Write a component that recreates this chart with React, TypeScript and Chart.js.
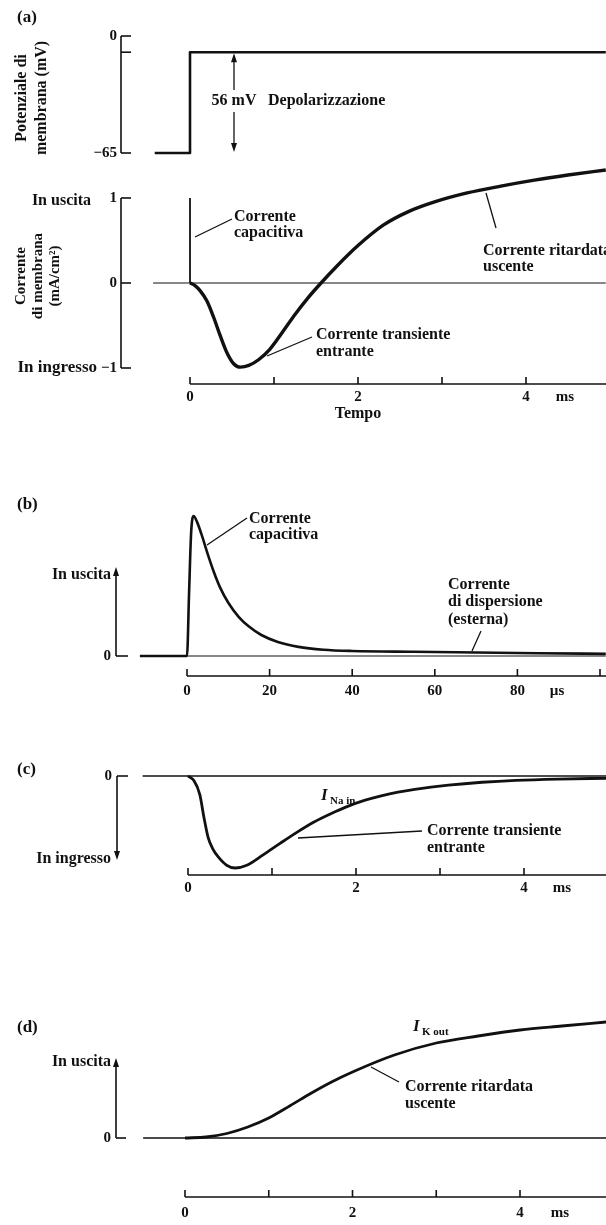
import React, { useEffect, useRef } from 'react';
import { Chart, registerables } from 'chart.js';
Chart.register(...registerables);

// ---------------- data ----------------
// (a) membrane potential step (ms, mV)
const voltageTime = [-0.42, 0, 0, 4.95];
const voltageMv = [-65, -65, -9, -9];
const voltageTicks = [0, -9, -65];
const voltageTickLabels = ['0', '', '−65'];

// (a) membrane current (ms, mA/cm²)
const capSpikeTime = [0, 0];
const capSpikeValue = [0, 1.0];
const membraneTime = [0, 0.06, 0.12, 0.2, 0.28, 0.36, 0.44, 0.52, 0.6, 0.7, 0.82, 0.95, 1.1, 1.25, 1.4, 1.56, 1.75, 2.0, 2.3, 2.6, 2.93, 3.3, 3.7, 4.1, 4.5, 4.95];
const membraneCurrent = [0, -0.03, -0.09, -0.21, -0.4, -0.62, -0.82, -0.95, -0.99, -0.97, -0.9, -0.78, -0.58, -0.37, -0.18, 0, 0.2, 0.44, 0.68, 0.84, 0.96, 1.06, 1.14, 1.21, 1.27, 1.33];
const currentTicks = [1, 0, -1];
const currentTickLabels = ['1', '0', '−1'];
const zeroLineA = [-0.44, 4.95];

// time axis (ms)
const msTicks = [0, 1, 2, 3, 4];
const msTickLabels = ['0', '', '2', '', '4'];

// (b) capacitive current (µs, arbitrary units)
const capTimeUs = [-11.4, 0, 0.5, 1.0, 1.6, 2.4, 3.5, 5, 6.5, 8, 10, 12.5, 15, 18, 22, 27, 33, 40, 55, 70, 85, 101.4];
const capCurrent = [0, 0, 0.45, 0.88, 1.0, 0.96, 0.87, 0.73, 0.6, 0.49, 0.38, 0.28, 0.21, 0.15, 0.1, 0.065, 0.045, 0.036, 0.03, 0.025, 0.02, 0.015];
const zeroLineB = [-11.4, 101.4];
const usTicks = [0, 20, 40, 60, 80, 100];
const usTickLabels = ['0', '20', '40', '60', '80', ''];

// (c) transient inward Na current (ms, arbitrary units)
const naTime = [0, 0.07, 0.14, 0.19, 0.24, 0.3, 0.36, 0.46, 0.56, 0.7, 0.89, 1.1, 1.3, 1.5, 1.7, 1.9, 2.1, 2.3, 2.5, 2.7, 3.1, 3.5, 3.9, 4.4, 4.98];
const naCurrent = [0, -0.05, -0.2, -0.45, -0.67, -0.8, -0.88, -0.97, -1.0, -0.97, -0.86, -0.73, -0.61, -0.5, -0.41, -0.33, -0.265, -0.215, -0.175, -0.145, -0.1, -0.068, -0.047, -0.033, -0.025];
const zeroLineC = [-0.54, 4.98];

// (d) delayed outward K current (ms, arbitrary units)
const kTime = [0, 0.25, 0.5, 0.75, 1.0, 1.25, 1.5, 1.75, 2.0, 2.5, 3.0, 3.5, 4.0, 4.5, 5.03];
const kCurrent = [0, 0.01, 0.045, 0.11, 0.2, 0.32, 0.445, 0.56, 0.66, 0.83, 0.95, 1.02, 1.08, 1.12, 1.16];
const zeroLineD = [-0.5, 5.03];

// ---------------- layout ----------------
const W = 606;
const H = 1225;
const FONT = '"Liberation Serif", "DejaVu Serif", serif';
const f = (size: number, style = 'bold') => `${style} ${size}px ${FONT}`;
const LBL = f(16);
const TICK = f(15);

// scale helper: pixel p0 holds value 0, k pixels per unit
const xRange = (p0: number, k: number) => ({ min: -p0 / k, max: (W - p0) / k });
const yRange = (q0: number, k: number) => ({ min: -(H - q0) / k, max: q0 / k });

const pts = (xs: number[], ys: number[]) => xs.map((x, i) => ({ x, y: ys[i] }));
const flat = (xs: number[]) => xs.map((x) => ({ x, y: 0 }));

function line(data: any[], xAxisID: string, yAxisID: string, width: number, smooth = true) {
  return {
    data,
    xAxisID,
    yAxisID,
    borderColor: '#111',
    borderWidth: width,
    pointRadius: 0,
    fill: false,
    cubicInterpolationMode: smooth ? 'monotone' : 'default',
    tension: 0,
    borderCapStyle: 'butt',
    borderJoinStyle: 'round',
  };
}

function arrowHead(ctx: CanvasRenderingContext2D, x: number, y: number, dir: 1 | -1) {
  // dir -1: pointing up, 1: pointing down
  ctx.beginPath();
  ctx.moveTo(x, y);
  ctx.lineTo(x - 3, y - dir * 9);
  ctx.lineTo(x + 3, y - dir * 9);
  ctx.closePath();
  ctx.fill();
}

function seg(ctx: CanvasRenderingContext2D, x1: number, y1: number, x2: number, y2: number, w = 1.3) {
  ctx.lineWidth = w;
  ctx.beginPath();
  ctx.moveTo(x1, y1);
  ctx.lineTo(x2, y2);
  ctx.stroke();
}

function text(ctx: CanvasRenderingContext2D, s: string, x: number, y: number, align: CanvasTextAlign = 'left', font = LBL) {
  ctx.font = font;
  ctx.textAlign = align;
  ctx.textBaseline = 'middle';
  ctx.fillText(s, x, y);
}

function xAxis(ctx: CanvasRenderingContext2D, sc: any, base: number, ticks: number[], labels: string[], labelY: number, unit: string, unitX: number) {
  const x0 = sc.getPixelForValue(ticks[0]);
  seg(ctx, x0, base, W, base, 1.6);
  ticks.forEach((t, i) => {
    const px = sc.getPixelForValue(t);
    seg(ctx, px, base, px, base - 7, 1.6);
    if (labels[i]) text(ctx, labels[i], px, labelY, 'center', TICK);
  });
  text(ctx, unit, unitX, labelY, 'center', TICK);
}

const axesPlugin = {
  id: 'figureAxes',
  afterDraw(chart: any) {
    const ctx: CanvasRenderingContext2D = chart.ctx;
    const s = chart.scales;
    ctx.save();
    ctx.strokeStyle = '#111';
    ctx.fillStyle = '#111';

    // panel letters
    text(ctx, '(a)', 17, 18, 'left', f(17));
    text(ctx, '(b)', 17, 505, 'left', f(17));
    text(ctx, '(c)', 17, 770, 'left', f(17));
    text(ctx, '(d)', 17, 1028, 'left', f(17));

    // ---- (a) voltage axis ----
    const yV = s.yV;
    seg(ctx, 121, yV.getPixelForValue(0), 121, yV.getPixelForValue(-65), 1.6);
    voltageTicks.forEach((v, i) => {
      const py = yV.getPixelForValue(v);
      seg(ctx, 121, py, 131, py, 1.6);
      if (voltageTickLabels[i]) text(ctx, voltageTickLabels[i], 117, py, 'right', TICK);
    });
    ctx.save();
    ctx.translate(22, 98);
    ctx.rotate(-Math.PI / 2);
    text(ctx, 'Potenziale di', 0, 0, 'center', LBL);
    text(ctx, 'membrana (mV)', 0, 20, 'center', LBL);
    ctx.restore();
    // depolarisation arrow
    const ax = 234;
    const aTop = yV.getPixelForValue(-9) + 1;
    const aBot = yV.getPixelForValue(-65) - 1;
    seg(ctx, ax, aTop + 6, ax, 90, 1.3);
    seg(ctx, ax, 112, ax, aBot - 6, 1.3);
    arrowHead(ctx, ax, aTop, -1);
    arrowHead(ctx, ax, aBot, 1);
    text(ctx, '56 mV', ax, 101, 'center', LBL);
    text(ctx, 'Depolarizzazione', 268, 101, 'left', LBL);

    // ---- (a) current axis ----
    const yA = s.yA;
    seg(ctx, 121, yA.getPixelForValue(1), 121, yA.getPixelForValue(-1), 1.6);
    currentTicks.forEach((v, i) => {
      const py = yA.getPixelForValue(v);
      seg(ctx, 121, py, 131, py, 1.6);
      text(ctx, currentTickLabels[i], 117, py, 'right', TICK);
    });
    text(ctx, 'In uscita', 91, yA.getPixelForValue(1) + 3, 'right', LBL);
    text(ctx, 'In ingresso', 97, yA.getPixelForValue(-1), 'right', f(17));
    ctx.save();
    ctx.translate(21, 276);
    ctx.rotate(-Math.PI / 2);
    text(ctx, 'Corrente', 0, 0, 'center', f(15));
    text(ctx, 'di membrana', 0, 17, 'center', f(15));
    text(ctx, '(mA/cm²)', 0, 34, 'center', f(15));
    ctx.restore();
    xAxis(ctx, s.xA, 384, msTicks, msTickLabels, 397, 'ms', 565);
    text(ctx, 'Tempo', 358, 414, 'center', LBL);
    // annotations (a)
    seg(ctx, 195, 237, 232, 219);
    text(ctx, 'Corrente', 234, 217, 'left', LBL);
    text(ctx, 'capacitiva', 234, 233, 'left', LBL);
    seg(ctx, 486, 193, 496, 228);
    text(ctx, 'Corrente ritardata', 483, 251, 'left', LBL);
    text(ctx, 'uscente', 483, 267, 'left', LBL);
    seg(ctx, 267, 356, 312, 337);
    text(ctx, 'Corrente transiente', 316, 335, 'left', LBL);
    text(ctx, 'entrante', 316, 352, 'left', LBL);

    // ---- (b) ----
    const yB = s.yB;
    const b0 = yB.getPixelForValue(0);
    seg(ctx, 116, b0, 116, 575, 1.6);
    arrowHead(ctx, 116, 567, -1);
    seg(ctx, 116, b0, 128, b0, 1.6);
    text(ctx, '0', 111, b0, 'right', TICK);
    text(ctx, 'In uscita', 111, 575, 'right', LBL);
    xAxis(ctx, s.xB, 676, usTicks, usTickLabels, 691, 'µs', 557);
    seg(ctx, 207, 545, 247, 518);
    text(ctx, 'Corrente', 249, 519, 'left', LBL);
    text(ctx, 'capacitiva', 249, 535, 'left', LBL);
    seg(ctx, 481, 631, 472, 651);
    text(ctx, 'Corrente', 448, 585, 'left', LBL);
    text(ctx, 'di dispersione', 448, 602, 'left', LBL);
    text(ctx, '(esterna)', 448, 620, 'left', LBL);

    // ---- (c) ----
    const yC = s.yC;
    const c0 = yC.getPixelForValue(0);
    seg(ctx, 117, c0, 117, 851, 1.6);
    arrowHead(ctx, 117, 860, 1);
    seg(ctx, 117, c0, 128, c0, 1.6);
    text(ctx, '0', 112, c0, 'right', TICK);
    text(ctx, 'In ingresso', 111, 859, 'right', LBL);
    xAxis(ctx, s.xC, 875, msTicks, msTickLabels, 888, 'ms', 562);
    text(ctx, 'I', 321, 796, 'left', f(17, 'italic bold'));
    text(ctx, 'Na in', 330, 801, 'left', f(11));
    seg(ctx, 298, 838, 422, 831);
    text(ctx, 'Corrente transiente', 427, 831, 'left', LBL);
    text(ctx, 'entrante', 427, 848, 'left', LBL);

    // ---- (d) ----
    const yD = s.yD;
    const d0 = yD.getPixelForValue(0);
    seg(ctx, 116, d0, 116, 1067, 1.6);
    arrowHead(ctx, 116, 1058, -1);
    seg(ctx, 116, d0, 126, d0, 1.6);
    text(ctx, '0', 111, d0, 'right', TICK);
    text(ctx, 'In uscita', 111, 1062, 'right', LBL);
    xAxis(ctx, s.xD, 1197, msTicks, msTickLabels, 1213, 'ms', 560);
    text(ctx, 'I', 413, 1027, 'left', f(17, 'italic bold'));
    text(ctx, 'K out', 422, 1032, 'left', f(11));
    seg(ctx, 371, 1067, 399, 1082);
    text(ctx, 'Corrente ritardata', 405, 1087, 'left', LBL);
    text(ctx, 'uscente', 405, 1104, 'left', LBL);

    ctx.restore();
  },
};

const hidden = (r: { min: number; max: number }, axis: 'x' | 'y') => ({
  type: 'linear',
  axis,
  display: false,
  min: r.min,
  max: r.max,
  bounds: 'data',
  grace: 0,
});

export default function App() {
  const ref = useRef<HTMLCanvasElement>(null);
  useEffect(() => {
    if (!ref.current) return;
    const chart = new Chart(ref.current, {
      type: 'line',
      data: {
        datasets: [
          line(pts(voltageTime, voltageMv), 'xA', 'yV', 2.6, false),
          line(pts(zeroLineA, [0, 0]), 'xA', 'yA', 1.1, false),
          line(pts(capSpikeTime, capSpikeValue), 'xA', 'yA', 1.8, false),
          line(pts(membraneTime, membraneCurrent), 'xA', 'yA', 3.4),
          line(flat(zeroLineB), 'xB', 'yB', 1.2, false),
          line(pts(capTimeUs, capCurrent), 'xB', 'yB', 2.6),
          line(flat(zeroLineC), 'xC', 'yC', 1.3, false),
          line(pts(naTime, naCurrent), 'xC', 'yC', 2.8),
          line(flat(zeroLineD), 'xD', 'yD', 1.3, false),
          line(pts(kTime, kCurrent), 'xD', 'yD', 2.8),
        ] as any,
      },
      options: {
        responsive: false,
        animation: false,
        events: [],
        layout: { padding: 0 },
        plugins: { legend: { display: false }, tooltip: { enabled: false }, title: { display: false } },
        scales: {
          xA: hidden(xRange(190, 84), 'x'),
          yV: hidden(yRange(36, 1.8), 'y'),
          yA: hidden(yRange(283, 85), 'y'),
          xB: hidden(xRange(187, 4.13), 'x'),
          yB: hidden(yRange(656, 140), 'y'),
          xC: hidden(xRange(188, 84), 'x'),
          yC: hidden(yRange(776, 92), 'y'),
          xD: hidden(xRange(185, 83.75), 'x'),
          yD: hidden(yRange(1138, 100), 'y'),
        } as any,
      },
      plugins: [axesPlugin],
    });
    return () => chart.destroy();
  }, []);
  return (
    <div style={{ position: 'absolute', left: 0, top: 0, width: W, height: H, background: '#fff' }}>
      <canvas ref={ref} width={W} height={H} style={{ display: 'block', width: W, height: H }} />
    </div>
  );
}
